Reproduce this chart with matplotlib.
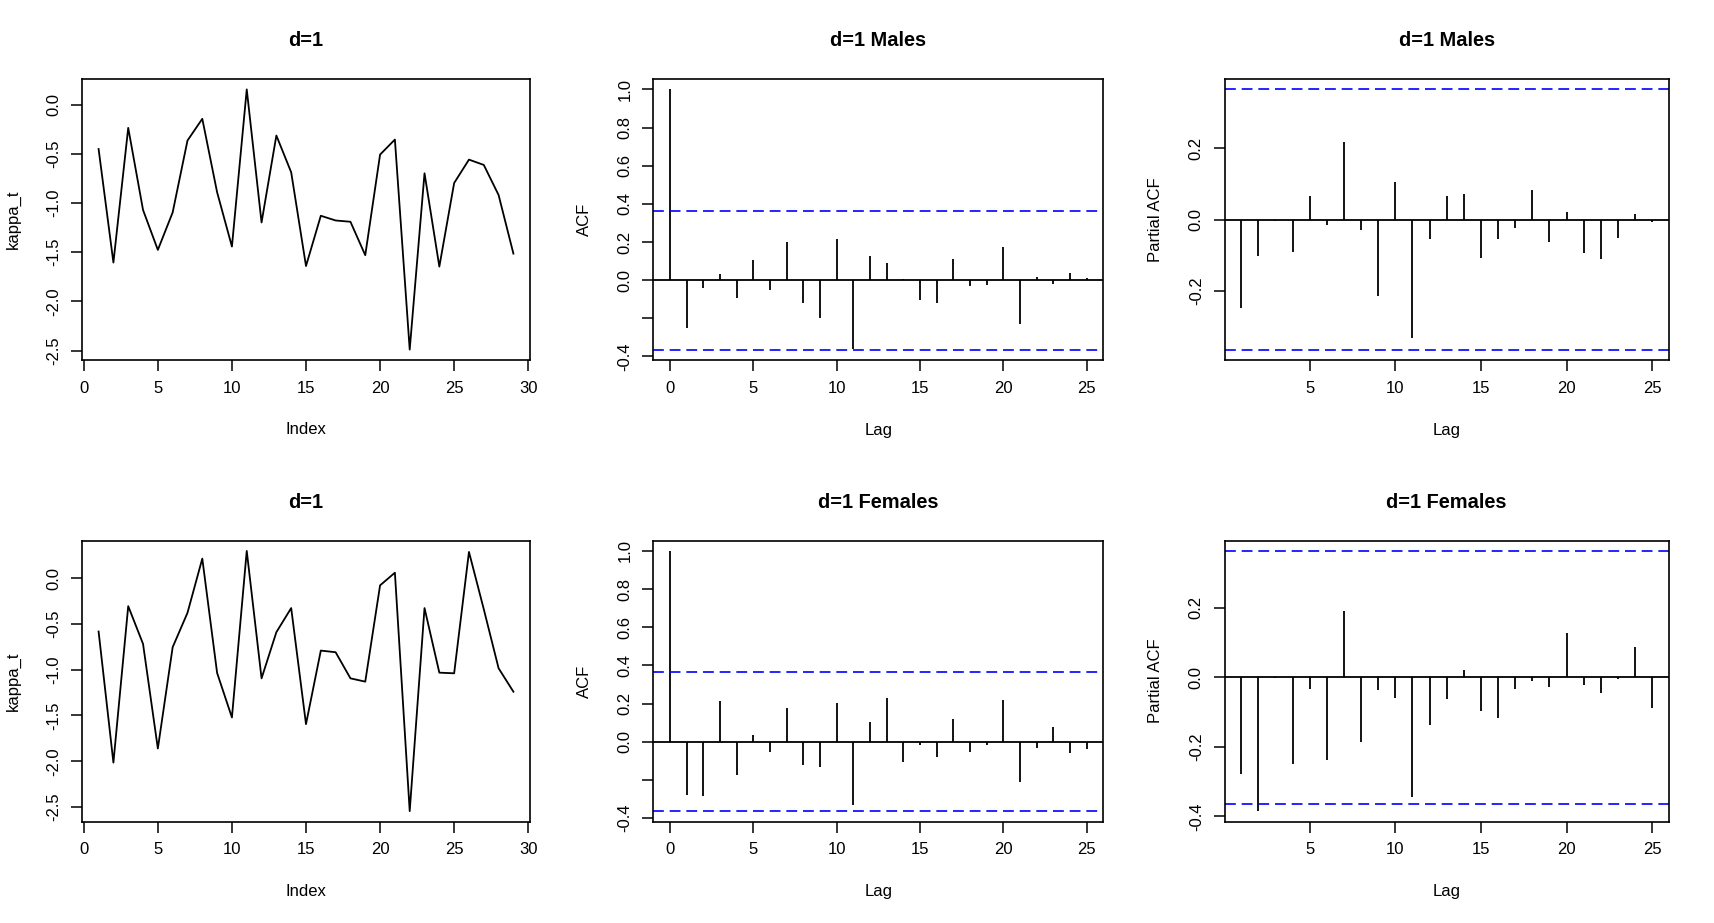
import numpy as np
import matplotlib
matplotlib.use("Agg")
import matplotlib.pyplot as plt

plt.rcParams['font.family'] = ['Liberation Sans', 'DejaVu Sans']
plt.rcParams['axes.unicode_minus'] = False

# ---------------- data ----------------
index = list(range(1, 30))
kappa_males = [-0.45, -1.605, -0.235, -1.07, -1.476, -1.095, -0.364, -0.143, -0.89, -1.442,
               0.156, -1.197, -0.313, -0.687, -1.64, -1.129, -1.177, -1.19, -1.53, -0.507,
               -0.354, -2.49, -0.697, -1.646, -0.796, -0.558, -0.612, -0.918, -1.514]
kappa_females = [-0.584, -2.015, -0.307, -0.719, -1.861, -0.755, -0.380, 0.212, -1.036, -1.522,
                 0.296, -1.095, -0.591, -0.328, -1.595, -0.792, -0.810, -1.095, -1.131, -0.080,
                 0.058, -2.544, -0.328, -1.033, -1.040, 0.285, -0.340, -0.985, -1.241]

acf_lags = list(range(0, 26))
acf_males = [1.0, -0.253, -0.039, 0.033, -0.091, 0.104, -0.049, 0.202, -0.121, -0.197,
             0.218, -0.362, 0.127, 0.090, 0.007, -0.102, -0.121, 0.112, -0.028, -0.023,
             0.172, -0.228, 0.018, -0.019, 0.040, 0.009]
acf_females = [1.0, -0.281, -0.285, 0.213, -0.174, 0.037, -0.053, 0.178, -0.121, -0.132,
               0.202, -0.332, 0.105, 0.228, -0.109, -0.016, -0.081, 0.121, -0.054, -0.019,
               0.221, -0.211, -0.033, 0.076, -0.058, -0.040]

pacf_lags = list(range(1, 26))
pacf_males = [-0.248, -0.102, -0.004, -0.090, 0.065, -0.016, 0.216, -0.029, -0.214, 0.105,
              -0.331, -0.054, 0.066, 0.070, -0.107, -0.054, -0.025, 0.083, -0.064, 0.020,
              -0.095, -0.111, -0.052, 0.014, -0.007]
pacf_females = [-0.277, -0.385, -0.002, -0.249, -0.034, -0.237, 0.192, -0.185, -0.036, -0.059,
                -0.345, -0.137, -0.061, 0.022, -0.097, -0.116, -0.033, -0.010, -0.029, 0.127,
                -0.023, -0.046, -0.006, 0.087, -0.088]

n_obs = 29
titles = [["d=1", "d=1 Males", "d=1 Males"],
          ["d=1", "d=1 Females", "d=1 Females"]]

# ---------------- layout ----------------
W, H = 1714, 923
fig = plt.figure(figsize=(W / 100, H / 100), dpi=100)

col_w = W / 3
row_h = H / 2
ax_ws = [448, 450, 444]
ax_h = 281
left_m, top_m = 82, 79

LW = 1.3
FS = 12
TFS = 14.4


def r_range(vals, extra=()):
    lo = min(list(vals) + list(extra))
    hi = max(list(vals) + list(extra))
    d = (hi - lo) * 0.04
    return lo - d, hi + d


def make_ax(r, c):
    x0 = c * col_w + left_m
    y0 = r * row_h + top_m
    ax = fig.add_axes([x0 / W, 1 - (y0 + ax_h) / H, ax_ws[c] / W, ax_h / H])
    for s in ax.spines.values():
        s.set_linewidth(1.2)
    ax.tick_params(direction='out', length=8, width=1.1, labelsize=FS, pad=7)
    return ax


def finish(ax, c, title, xlabel, ylabel, yticks, ytl):
    ax.set_yticks(yticks)
    ax.set_yticklabels(ytl, rotation=90, va='center')
    ax.text(0.5, 1 + 38.5 / ax_h, title, transform=ax.transAxes, ha='center', va='center',
            fontsize=TFS, fontweight='bold')
    ax.set_xlabel(xlabel, fontsize=FS)
    ax.xaxis.set_label_coords(0.5, -70 / ax_h)
    ax.xaxis.label.set_va('center')
    ax.set_ylabel(ylabel, fontsize=FS)
    ax.yaxis.set_label_coords(-69 / ax_ws[c], 0.5)
    ax.yaxis.label.set_va('center')


clim = 1.96 / np.sqrt(n_obs)
blue_kw = dict(color='#0000FF', lw=1.2, linestyle=(0, (6.5, 3.5)))

for r, (kap, acf, pacf) in enumerate([(kappa_males, acf_males, pacf_males),
                                      (kappa_females, acf_females, pacf_females)]):
    # series plot
    ax = make_ax(r, 0)
    ax.plot(index, kap, color='black', lw=LW)
    ax.set_xlim(r_range(index))
    ax.set_ylim(r_range(kap))
    ax.set_xticks([0, 5, 10, 15, 20, 25, 30])
    yt = [-2.5, -2.0, -1.5, -1.0, -0.5, 0.0]
    finish(ax, 0, titles[r][0], "Index", "kappa_t", yt, [f"{v:.1f}" for v in yt])

    # ACF
    ax = make_ax(r, 1)
    ax.vlines(acf_lags, 0, acf, colors='black', lw=LW)
    ax.axhline(0, color='black', lw=LW)
    ax.axhline(clim, **blue_kw)
    ax.axhline(-clim, **blue_kw)
    ax.set_xlim(r_range(acf_lags))
    ax.set_ylim(r_range(acf, (-clim, clim)))
    ax.set_xticks([0, 5, 10, 15, 20, 25])
    finish(ax, 1, titles[r][1], "Lag", "ACF", [-0.4, -0.2, 0.0, 0.2, 0.4, 0.6, 0.8, 1.0],
           ["-0.4", "", "0.0", "0.2", "0.4", "0.6", "0.8", "1.0"])

    # PACF
    ax = make_ax(r, 2)
    ax.vlines(pacf_lags, 0, pacf, colors='black', lw=LW)
    ax.axhline(0, color='black', lw=LW)
    ax.axhline(clim, **blue_kw)
    ax.axhline(-clim, **blue_kw)
    ax.set_xlim(r_range(pacf_lags))
    lo, hi = r_range(pacf, (-clim, clim))
    ax.set_ylim(lo, hi)
    ax.set_xticks([5, 10, 15, 20, 25])
    yt = [v for v in [-0.4, -0.2, 0.0, 0.2] if lo <= v <= hi]
    finish(ax, 2, titles[r][2], "Lag", "Partial ACF", yt, [f"{v:.1f}" for v in yt])

fig.savefig("out.png", dpi=100)
